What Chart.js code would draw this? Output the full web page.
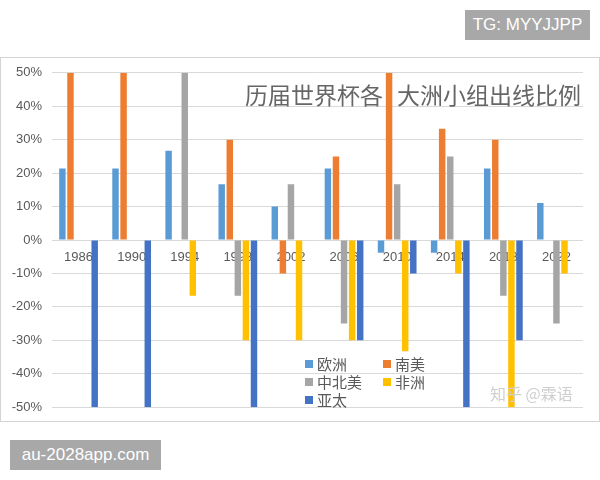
<!DOCTYPE html>
<html>
<head>
<meta charset="utf-8">
<script src="https://cdn.jsdelivr.net/npm/chart.js@4"></script>
<style>
  body { margin: 0; width: 600px; height: 480px; background: #fff; position: relative; overflow: hidden; font-family: "Noto Sans CJK SC", "Liberation Sans", sans-serif; }
  #frame { position: absolute; left: 0; top: 57px; width: 598px; height: 363px; border: 1px solid #d4d4d4; }
  #wrap { position: absolute; left: 0; top: 55px; width: 600px; height: 370px; }
  .tag { position: absolute; background: #a8a8a8; color: #fff; font-family: "Liberation Sans", Arial, sans-serif; font-size: 17px; line-height: 30px; text-align: center; }
</style>
</head>
<body>
<div id="frame"></div>
<div id="wrap"><canvas id="grafico"></canvas></div>
<div class="tag" style="left:465px;top:10px;width:125px;">TG: MYYJJPP</div>
<div class="tag" style="left:10px;top:440px;width:151px;">au-2028app.com</div>
<script>
const anios = ['1986', '1990', '1994', '1998', '2002', '2006', '2010', '2014', '2018', '2022'];
const europa = [21.4, 21.4, 26.7, 16.7, 10, 21.4, -3.8, -3.8, 21.4, 11.1];
const sudamerica = [50, 50, 0, 30, -10, 25, 50, 33.3, 30, 0];
const norteamerica = [0, 0, 50, -16.7, 16.7, -25, 16.7, 25, -16.7, -25];
const africa = [0, 0, -16.7, -30, -30, -30, -33.3, -10, -50, -10];
const asia = [-50, -50, 0, -50, 0, -30, -10, -50, -30, 0];
const yTicks = [-50, -40, -30, -20, -10, 0, 10, 20, 30, 40, 50];

const series = [
  { label: '欧洲', data: europa, color: '#5b9bd5' },
  { label: '南美', data: sudamerica, color: '#ed7d31' },
  { label: '中北美', data: norteamerica, color: '#a5a5a5' },
  { label: '非洲', data: africa, color: '#ffc000' },
  { label: '亚太', data: asia, color: '#4472c4' }
];

const textoGris = '#595959';

// titulo dentro del area del grafico, detras de las barras
const tituloPlugin = {
  id: 'titulo',
  beforeDatasetsDraw(chart) {
    const { ctx, chartArea } = chart;
    ctx.save();
    ctx.fillStyle = '#666666';
    ctx.font = '23px "Noto Sans CJK SC"';
    ctx.textBaseline = 'middle';
    ctx.textAlign = 'left';
    ctx.fillText('历届世界杯各', chartArea.left + 193, chartArea.top + 22);
    ctx.textAlign = 'right';
    ctx.fillText('大洲小组出线比例', chartArea.right - 2, chartArea.top + 22);
    ctx.restore();
  }
};

// leyenda en dos columnas dentro del grafico
const leyendaPlugin = {
  id: 'leyenda',
  afterDraw(chart) {
    const { ctx } = chart;
    const cols = [305, 383];
    const filas = [309, 327, 345];
    ctx.save();
    ctx.font = '15px "Noto Sans CJK SC"';
    ctx.textBaseline = 'middle';
    ctx.textAlign = 'left';
    chart.data.datasets.forEach((ds, i) => {
      const x = cols[i % 2];
      const y = filas[Math.floor(i / 2)];
      ctx.fillStyle = ds.backgroundColor;
      ctx.fillRect(x, y - 4, 8, 8);
      ctx.fillStyle = textoGris;
      ctx.fillText(ds.label, x + 12, y);
    });
    ctx.fillStyle = '#cfcfcf';
    ctx.font = '16px "Noto Sans CJK SC"';
    ctx.fillText('知乎 @霖语', 490, 339);
    ctx.restore();
  }
};

const ctx = document.getElementById('grafico').getContext('2d');
new Chart(ctx, {
  type: 'bar',
  data: {
    labels: anios,
    datasets: series.map(s => ({
      label: s.label,
      data: s.data,
      backgroundColor: s.color,
      borderWidth: 0,
      categoryPercentage: 0.76,
      barPercentage: 0.8
    }))
  },
  options: {
    responsive: true,
    maintainAspectRatio: false,
    animation: false,
    layout: { padding: { top: 13, bottom: 13, right: 17, left: 0 } },
    plugins: {
      legend: { display: false },
      tooltip: { enabled: false }
    },
    scales: {
      x: {
        position: { y: 0 },
        grid: { display: false, drawTicks: false },
        border: { display: false },
        ticks: { color: textoGris, font: { size: 13, family: 'Liberation Sans' }, padding: 10, maxRotation: 0 }
      },
      y: {
        min: -50,
        max: 50,
        afterBuildTicks: scale => { scale.ticks = yTicks.map(v => ({ value: v })); },
        afterFit: scale => { scale.width = 52; },
        grid: { color: '#d9d9d9', drawTicks: false },
        border: { display: false },
        ticks: {
          color: textoGris,
          font: { size: 13, family: 'Liberation Sans' },
          padding: 10,
          callback: v => v + '%'
        }
      }
    }
  },
  plugins: [tituloPlugin, leyendaPlugin]
});
</script>
</body>
</html>
